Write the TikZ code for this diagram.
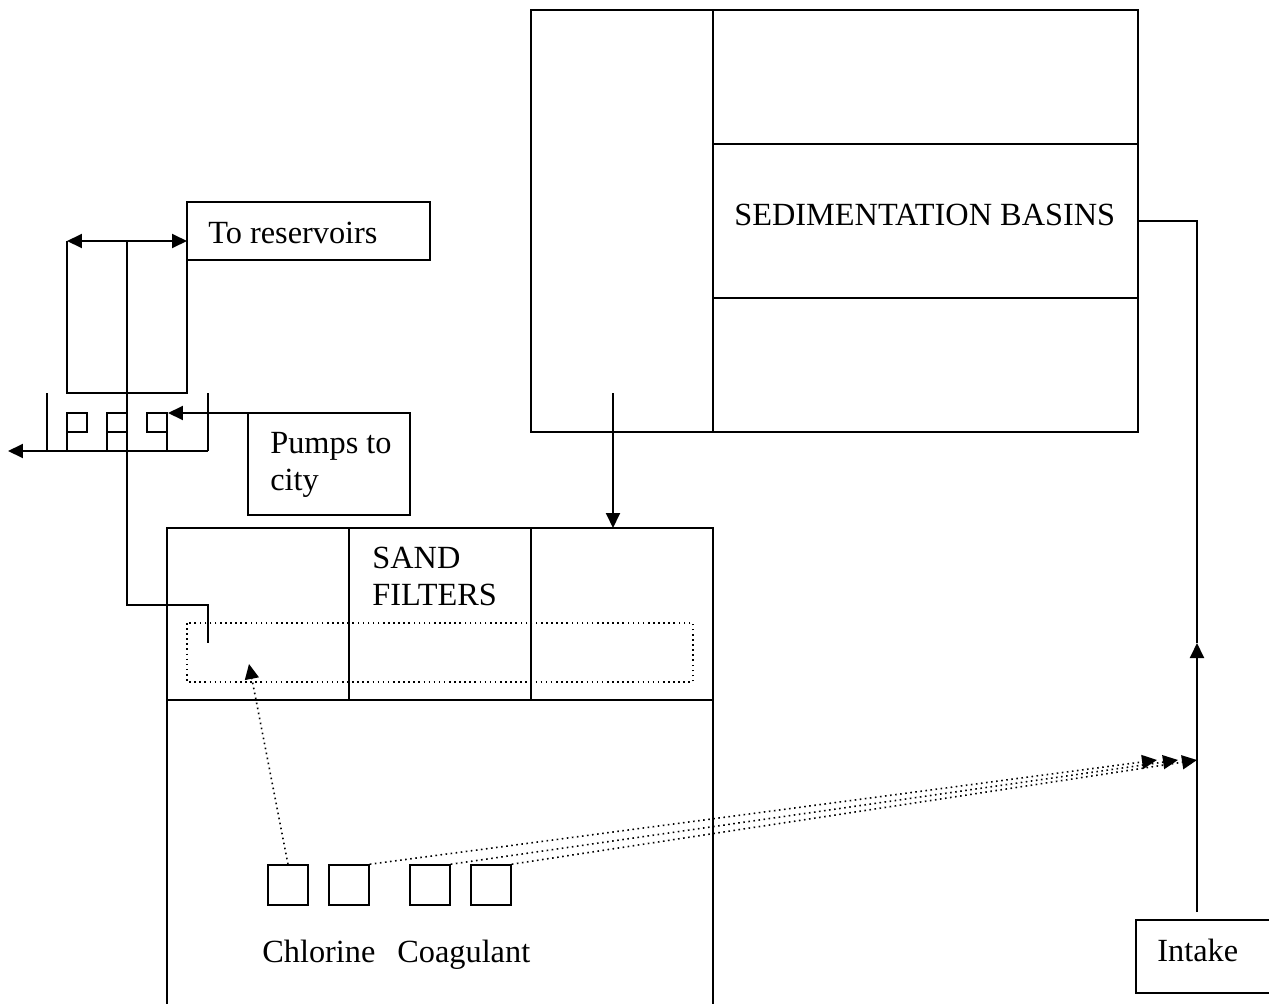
\documentclass[tikz,border=0pt]{standalone}
\usepackage{fontspec}
\setmainfont{Liberation Serif}
\usetikzlibrary{arrows.meta}
\tikzset{
  wall/.style={line width=1.1pt},
  flow/.style={wall,-{Triangle[length=0.3cm,width=0.28cm]}},
  dose/.style={line width=0.9pt,dotted,-{Triangle[length=0.3cm,width=0.28cm]}},
  tank/.style={draw,line width=0.9pt,minimum size=0.8cm,inner sep=0pt},
  lbl/.style={font=\fontsize{18.4}{22}\selectfont,inner sep=0pt,anchor=base west},
}

\begin{document}
\begin{tikzpicture}[x=0.02cm,y=-0.02cm]
			\useasboundingbox (0,0) rectangle (1269,1004);
			%%%%% SEDIMENTATION BASINS %%%%%
			\draw[wall] (531,10) rectangle (1138,432);
			\draw[wall] (713,10) -- (713,432);
			\draw[wall] (713,144) -- (1138,144);
			\draw[wall] (713,298) -- (1138,298);
			\node[lbl] (sedlabel) at (734,225) {SEDIMENTATION BASINS};
			
			\coordinate (sedout) at (613,393);
			\coordinate (sandin) at (613,528);
			\draw[flow] (sedout) -- (sandin);
			
			%%%%% SAND FILTERS %%%%%
			\draw[wall] (167,1004) -- (167,528) -- (713,528) -- (713,1004);
			\draw[wall] (167,700) -- (713,700);
			\draw[wall] (349,528) -- (349,700);
			\draw[wall] (531,528) -- (531,700);
			\node[lbl] (sandlabel) at (372,568) {SAND};
			\node[lbl] (filterlabel) at (372,605) {FILTERS};
			\draw[line width=0.9pt,dotted] (187,623) rectangle (693,682);
			
			%%%%% INTAKE %%%%%
			\draw[wall] (1269,920) -- (1136,920) -- (1136,993) -- (1269,993);
			\node[lbl] (intakelabel) at (1157,961) {Intake};
			\coordinate (intaketop) at (1197,912);
			\coordinate (riser) at (1197,643);
			\coordinate (bend) at (1197,221);
			\coordinate (sedin) at (1138,221);
			\draw[flow] (intaketop) -- (riser);
			\draw[wall] (riser) -- (bend) -- (sedin);
			
			%%%%% CHEMICALS %%%%%
			\foreach \name/\xpos in {cl1/288, cl2/349, co1/430, co2/491}
				\node[tank] (\name) at (\xpos,885) {};
			\node[lbl] (chlorine) at (262,962) {Chlorine};
			\node[lbl] (coagulant) at (397,962) {Coagulant};
			
			\coordinate (filterin) at (249,664);
			\coordinate (dose1) at (1157,760);
			\coordinate (dose2) at (1178,760);
			\coordinate (dose3) at (1197,760);
			\draw[dose] (cl1.north) -- (filterin);
			\draw[dose] (cl2.north east) -- (dose1);
			\draw[dose] (co1.north east) -- (dose2);
			\draw[dose] (co2.north east) -- (dose3);
			
			%%%%% RESERVOIRS AND PUMPS %%%%%
			\coordinate (resL) at (67,241);
			\coordinate (resmid) at (127,241);
			\coordinate (resR) at (187,241);
			\draw[wall] (resL) -- (67,393) -- (187,393) -- (resR);
			\draw[wall,{Triangle[length=0.3cm,width=0.28cm]}-{Triangle[length=0.3cm,width=0.28cm]}] (resL) -- (resR);
			\draw[wall] (187,202) rectangle (430,260);
			\node[lbl] (reslabel) at (208,243) {To reservoirs};
			
			\draw[wall] (resmid) -- (127,605) -- (208,605) -- (208,643);
			
			\draw[wall] (47,393) -- (47,451);
			\draw[wall] (208,393) -- (208,451);
			\coordinate (housing) at (208,451);
			\coordinate (cityout) at (8,451);
			\draw[flow] (housing) -- (cityout);
			
			\draw[wall] (67,451) -- (67,413) -- (87,413) -- (87,432) -- (67,432);
			\draw[wall] (107,451) -- (107,413) -- (127,413);
			\draw[wall] (107,432) -- (127,432);
			\draw[wall] (167,451) -- (167,413) -- (147,413) -- (147,432) -- (167,432);
			
			\draw[wall] (248,413) rectangle (410,515);
			\node[lbl] (pumplabel) at (270,453) {Pumps to};
			\node[lbl] (citylabel) at (270,490) {city};
			\coordinate (pumpbox) at (248,413);
			\coordinate (pump3) at (168,413);
			\draw[flow] (pumpbox) -- (pump3);
			%%%%% END %%%%%
\end{tikzpicture}
\end{document}
